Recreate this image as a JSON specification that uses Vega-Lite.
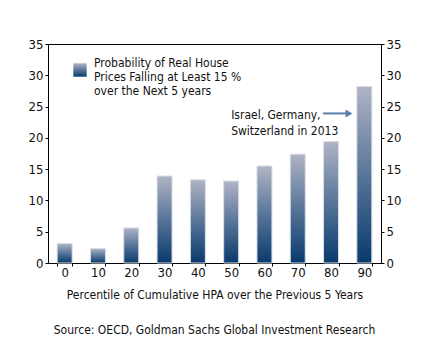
{
  "$schema": "https://vega.github.io/schema/vega-lite/v6.json",
  "width": 333,
  "height": 219,
  "autosize": {"type": "none"},
  "padding": {"left": 48, "top": 44, "right": 57, "bottom": 87},
  "background": "white",
  "config": {
    "font": "DejaVu Sans Condensed",
    "view": {"stroke": "#000", "strokeWidth": 1},
    "axis": {"grid": false, "domainColor": "#000", "tickColor": "#000", "labelColor": "#111", "labelFontSize": 13, "titleFontSize": 12, "titleFontWeight": "normal", "titleColor": "#111", "tickSize": 3},
    "legend": {"labelFontSize": 12, "labelColor": "#111"}
  },
  "title": {"text": "Source: OECD, Goldman Sachs Global Investment Research", "orient": "bottom", "anchor": "middle", "fontSize": 12, "fontWeight": "normal", "color": "#111", "offset": 25, "font": "DejaVu Sans Condensed"},
  "layer": [
    {
      "data": {"values": [
        {"p": "0", "v": 3.1, "s": "Probability of Real House|Prices Falling at Least 15 %|over the Next 5 years"},
        {"p": "10", "v": 2.3, "s": "Probability of Real House|Prices Falling at Least 15 %|over the Next 5 years"},
        {"p": "20", "v": 5.6, "s": "Probability of Real House|Prices Falling at Least 15 %|over the Next 5 years"},
        {"p": "30", "v": 13.9, "s": "Probability of Real House|Prices Falling at Least 15 %|over the Next 5 years"},
        {"p": "40", "v": 13.3, "s": "Probability of Real House|Prices Falling at Least 15 %|over the Next 5 years"},
        {"p": "50", "v": 13.1, "s": "Probability of Real House|Prices Falling at Least 15 %|over the Next 5 years"},
        {"p": "60", "v": 15.5, "s": "Probability of Real House|Prices Falling at Least 15 %|over the Next 5 years"},
        {"p": "70", "v": 17.4, "s": "Probability of Real House|Prices Falling at Least 15 %|over the Next 5 years"},
        {"p": "80", "v": 19.4, "s": "Probability of Real House|Prices Falling at Least 15 %|over the Next 5 years"},
        {"p": "90", "v": 28.2, "s": "Probability of Real House|Prices Falling at Least 15 %|over the Next 5 years"}
      ]},
      "mark": {"type": "bar", "stroke": "#d9dde5", "strokeWidth": 1,
        "color": {"gradient": "linear", "x1": 0, "y1": 0, "x2": 0, "y2": 1, "stops": [{"offset": 0, "color": "#b0b4c5"}, {"offset": 0.5, "color": "#587599"}, {"offset": 1, "color": "#083a6c"}]}},
      "encoding": {
        "x": {"field": "p", "type": "ordinal", "sort": null,
          "scale": {"paddingInner": 0.55, "paddingOuter": 0.275},
          "axis": {"title": "Percentile of Cumulative HPA over the Previous 5 Years", "labelAngle": 0, "tickBand": "extent", "tickSize": 3, "labelPadding": 0, "titlePadding": 10}},
        "y": {"field": "v", "type": "quantitative", "scale": {"domain": [0, 35]},
          "axis": {"title": null, "values": [0, 5, 10, 15, 20, 25, 30, 35], "orient": "left", "labelPadding": 2}},
        "opacity": {"field": "s", "type": "nominal", "scale": {"range": [1]},
          "legend": {"title": null, "orient": "none", "legendX": 25, "legendY": 19, "symbolType": "square", "symbolSize": 180, "symbolStrokeWidth": 0,
            "symbolFillColor": {"gradient": "linear", "x1": 0, "y1": 0, "x2": 0, "y2": 1, "stops": [{"offset": 0, "color": "#b0b4c5"}, {"offset": 0.5, "color": "#587599"}, {"offset": 1, "color": "#083a6c"}]},
            "labelExpr": "split(datum.label, '|')", "labelLimit": 300, "labelOffset": 7, "labelBaseline": "bottom"}}
      }
    },
    {
      "data": {"values": [
        {"xq": 50, "v": 23.7, "t": "Israel, Germany,|Switzerland in 2013", "kind": "text"},
        {"xq": 77.6, "v": 23.9, "kind": "arrow"},
        {"xq": 84.8, "v": 23.9, "kind": "arrow"},
        {"xq": 85.4, "v": 23.9, "kind": "head"}
      ]},
      "encoding": {
        "x": {"field": "xq", "type": "quantitative", "scale": {"domain": [-5, 95], "nice": false, "zero": false}, "axis": null},
        "y": {"field": "v", "type": "quantitative", "scale": {"domain": [0, 35]},
          "axis": {"title": null, "orient": "right", "values": [0, 5, 10, 15, 20, 25, 30, 35], "labelPadding": 2}}
      },
      "layer": [
        {"transform": [{"filter": "datum.kind == 'text'"}],
          "mark": {"type": "text", "align": "left", "baseline": "middle", "lineBreak": "|", "fontSize": 12, "lineHeight": 16, "color": "#111"},
          "encoding": {"text": {"field": "t"}}},
        {"transform": [{"filter": "datum.kind == 'arrow'"}],
          "mark": {"type": "line", "color": "#5a7ea8", "strokeWidth": 2}},
        {"transform": [{"filter": "datum.kind == 'head'"}],
          "mark": {"type": "point", "shape": "triangle-right", "filled": true, "color": "#5a7ea8", "size": 65, "opacity": 1}}
      ]
    }
  ],
  "resolve": {"scale": {"x": "independent", "y": "independent"}, "axis": {"x": "independent", "y": "independent"}}
}
